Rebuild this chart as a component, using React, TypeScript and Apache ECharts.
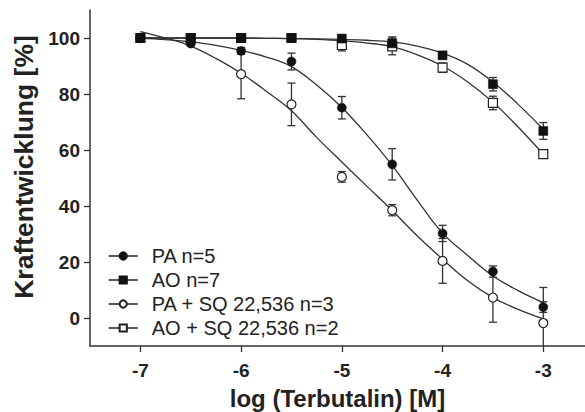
import React, { useEffect, useRef } from "react";
import * as echarts from "echarts";

// Measured concentrations (log M)
const pointX = [-7, -6.5, -6, -5.5, -5, -4.5, -4, -3.5, -3];

const paValues = [100, 98, 95.4, 91.6, 75.1, 54.9, 30.2, 16.6, 3.9];
const paErrors = [0, 0.8, 1.2, 3, 4, 5.6, 2.9, 2, 1.9];

const aoValues = [100, 100, 100, 100, 99.8, 98.1, 93.8, 83.5, 66.8];
const aoErrors = [0, 0, 0, 0, 0.6, 2.3, 0.8, 2.4, 3];

const paSqValues = [100, 98.5, 87.1, 76.3, 50.4, 38.5, 20.4, 7.3, -1.8];
const paSqErrors = [0, 0, 8.8, 7.6, 1.9, 2, 8, 8.8, 12.7];

const aoSqValues = [100, 100, 100, 100, 97.5, 97, 89.4, 76.8, 58.5];
const aoSqErrors = [0, 0, 0, 0.5, 2.1, 3, 1.7, 2.4, 0.6];

// Fitted curves
const curveX = [-7, -6.75, -6.5, -6.25, -6, -5.75, -5.5, -5.25, -5, -4.75, -4.5, -4.25, -4, -3.75, -3.5, -3.25, -3];
const paCurve = [100.0, 99.4, 98.6, 97.4, 95.6, 93.2, 89.8, 83.2, 75.2, 65.4, 54.5, 42.0, 30.3, 22.3, 15.0, 9.8, 5.5];
const paSqCurve = [102.3, 100.0, 97.1, 92.7, 87.4, 81.0, 74.0, 64.5, 55.7, 47.0, 38.4, 29.3, 21.0, 13.3, 7.3, 3.1, -0.3];
const aoCurve = [100, 100, 100, 100, 100, 99.9, 99.8, 99.7, 99.5, 99.2, 98.6, 97.1, 94.6, 90.6, 84.3, 76.3, 67.4];
const aoSqCurve = [100, 100, 100, 100, 100, 99.9, 99.8, 99.5, 99.0, 98.2, 96.9, 94.0, 90.0, 84.3, 77.1, 68.2, 58.5];

const xTicks = [-7, -6, -5, -4, -3];
const yTicks = [0, 20, 40, 60, 80, 100];

const names = ["PA n=5", "AO n=7", "PA + SQ 22,536 n=3", "AO + SQ 22,536 n=2"];

const FONT = "Liberation Sans";
const INK = "#222";

export default function App() {
  const ref = useRef<HTMLDivElement>(null);

  useEffect(() => {
    if (!ref.current) return;
    const chart = echarts.init(ref.current, null, { renderer: "svg" });

    const pairs = (xs: number[], ys: number[]) => xs.map((x, i) => [x, ys[i]]);
    const triples = (xs: number[], ys: number[], es: number[]) =>
      xs.map((x, i) => [x, ys[i], es[i]]).filter((d) => d[2] > 0);

    const curveSeries = (data: number[][]) => ({
      type: "line",
      data,
      smooth: 0.4,
      showSymbol: false,
      symbol: "none",
      silent: true,
      z: 2,
      lineStyle: { color: "#333", width: 1.3 },
    });

    const errSeries = (data: number[][]) => ({
      type: "custom",
      data,
      z: 3,
      clip: true,
      silent: true,
      renderItem: (params: any, api: any) => {
        const x = api.value(0);
        const y = api.value(1);
        const e = api.value(2);
        const top = api.coord([x, y + e]);
        const bot = api.coord([x, y - e]);
        const w = 4;
        const st = { stroke: "#333", lineWidth: 1.3 };
        return {
          type: "group",
          children: [
            { type: "line", shape: { x1: top[0], y1: top[1], x2: bot[0], y2: bot[1] }, style: st },
            { type: "line", shape: { x1: top[0] - w, y1: top[1], x2: top[0] + w, y2: top[1] }, style: st },
            { type: "line", shape: { x1: bot[0] - w, y1: bot[1], x2: bot[0] + w, y2: bot[1] }, style: st },
          ],
        };
      },
    });

    const pointSeries = (name: string, data: number[][], symbol: string, filled: boolean) => ({
      name,
      type: "line",
      data,
      symbol,
      symbolSize: 9,
      showAllSymbol: true,
      z: 4,
      lineStyle: { width: 0, opacity: 0 },
      itemStyle: filled
        ? { color: "#111", borderColor: "#111", borderWidth: 0.5 }
        : { color: "#fff", borderColor: "#222", borderWidth: 1.2 },
    });

    chart.setOption({
      animation: false,
      backgroundColor: "#fff",
      textStyle: { fontFamily: FONT },
      grid: { left: 90, right: 0, top: 10, bottom: 66, outerBoundsMode: "none" },
      xAxis: {
        type: "value",
        min: -7.5,
        max: -2.586,
        name: "log (Terbutalin) [M]",
        nameLocation: "middle",
        nameGap: 40,
        nameTextStyle: { fontFamily: FONT, fontSize: 24, fontWeight: "bold", color: INK },
        axisLine: { show: true, onZero: false, lineStyle: { color: "#333", width: 1.5 } },
        axisTick: { show: true, length: 6, customValues: xTicks, lineStyle: { color: "#333", width: 1.3 } },
        axisLabel: { customValues: xTicks, margin: 15, fontFamily: FONT, fontSize: 19, fontWeight: "bold", color: INK },
        splitLine: { show: false },
      },
      yAxis: {
        type: "value",
        min: -10,
        max: 110,
        name: "Kraftentwicklung [%]",
        nameLocation: "middle",
        nameRotate: 90,
        nameGap: 50,
        nameTextStyle: { fontFamily: FONT, fontSize: 26.5, fontWeight: "bold", color: INK, padding: [0, 0, 0, 22] },
        axisLine: { show: true, onZero: false, lineStyle: { color: "#333", width: 1.5 } },
        axisTick: { show: true, length: 6, customValues: yTicks, lineStyle: { color: "#333", width: 1.3 } },
        axisLabel: { customValues: yTicks, margin: 10, fontFamily: FONT, fontSize: 19, fontWeight: "bold", color: INK },
        splitLine: { show: false },
      },
      legend: {
        orient: "vertical",
        left: 108,
        top: 246,
        padding: 0,
        itemGap: 4,
        itemWidth: 29,
        itemHeight: 9,
        data: names,
        selectedMode: false,
        lineStyle: { color: "#222", width: 1.5, opacity: 1 },
        textStyle: { fontFamily: FONT, fontSize: 20, lineHeight: 20, color: INK, padding: [0, 0, 0, 9] },
      },
      series: [
        curveSeries(pairs(curveX, paSqCurve)),
        curveSeries(pairs(curveX, aoSqCurve)),
        curveSeries(pairs(curveX, paCurve)),
        curveSeries(pairs(curveX, aoCurve)),
        errSeries(triples(pointX, paSqValues, paSqErrors)),
        errSeries(triples(pointX, aoSqValues, aoSqErrors)),
        errSeries(triples(pointX, paValues, paErrors)),
        errSeries(triples(pointX, aoValues, aoErrors)),
        pointSeries(names[2], pairs(pointX, paSqValues), "circle", false),
        pointSeries(names[3], pairs(pointX, aoSqValues), "rect", false),
        pointSeries(names[0], pairs(pointX, paValues), "circle", true),
        pointSeries(names[1], pairs(pointX, aoValues), "rect", true),
      ],
    });

    return () => chart.dispose();
  }, []);

  return (
    <div
      ref={ref}
      style={{ position: "fixed", left: 0, top: 0, width: 585, height: 412, background: "#fff" }}
    />
  );
}
